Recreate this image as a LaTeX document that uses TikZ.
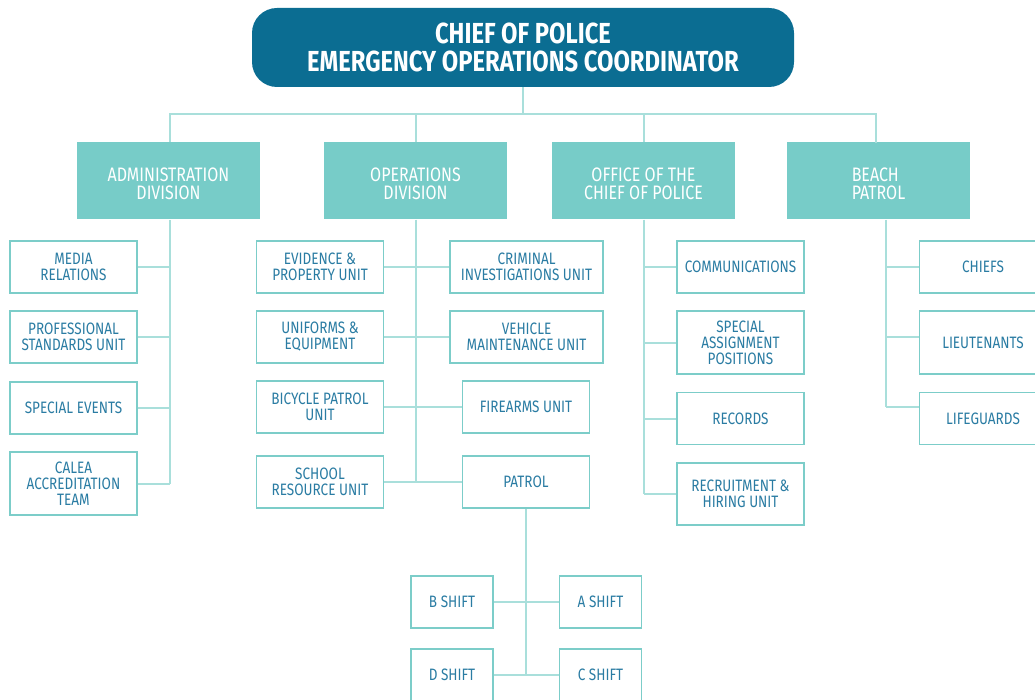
\documentclass[tikz,border=0pt]{standalone}
\usepackage{fontspec}
\setmainfont[FakeStretch=0.82]{Fira Sans}
\definecolor{navy}{HTML}{0B6D92}
\definecolor{divc}{HTML}{77CCC8}
\definecolor{edgec}{HTML}{A9DFDB}
\definecolor{bordc}{HTML}{7CCDC9}
\definecolor{txtc}{HTML}{2A7CA3}
\begin{document}
\begin{tikzpicture}[x=1pt,y=-1pt,
 unit/.style={draw=bordc, line width=1.4pt, fill=white, text=txtc, align=center,
   font=\fontsize{16.5}{16}\selectfont, inner sep=0pt, minimum width=127, minimum height=52},
 divfill/.style={fill=divc, minimum width=183, minimum height=77, inner sep=0pt},
 divbox/.style={divfill, label={[divtext]center:#1}},
 divtext/.style={text=white, align=center, font=\fontsize{19.5}{17.5}\selectfont, yshift=-3pt, inner sep=0pt},
 link/.style={draw=edgec, line width=2pt}]
\useasboundingbox (0,0) rectangle (1035,700);

% top
\node[fill=navy, rounded corners=25pt, minimum width=542, minimum height=79, inner sep=0pt,
  text=white, align=center, font=\bfseries\fontsize{29}{27.5}\selectfont] (chief) at (523,47.5)
  {CHIEF OF POLICE\\EMERGENCY OPERATIONS COORDINATOR};
\coordinate (bus) at (523,114);

% divisions
\node[divbox={ADMINISTRATION\\DIVISION}] (admin) at (168.5,181) {};
\node[divbox={OPERATIONS\\DIVISION}] (ops) at (415.5,181) {};
\node[divbox={OFFICE OF THE\\CHIEF OF POLICE}] (office) at (643.5,181) {};
\node[divfill, label={[divtext, align=left]center:BEACH\\PATROL}] (beach) at (878.5,181) {};
\coordinate (btop) at (876,143);
\coordinate (bbot) at (886,220);

% admin units
\node[unit] (media) at (73.5,267) {MEDIA\\RELATIONS};
\node[unit] (prof) at (73.5,337) {PROFESSIONAL\\STANDARDS UNIT};
\node[unit] (events) at (73.5,408) {SPECIAL EVENTS};
\node[unit, minimum height=63] (calea) at (73.5,483.5) {CALEA\\ACCREDITATION\\TEAM};

% operations units
\node[unit] (evid) at (320,267) {EVIDENCE \&\\PROPERTY UNIT};
\node[unit] (unif) at (320,337) {UNIFORMS \&\\EQUIPMENT};
\node[unit] (bike) at (320,407) {BICYCLE PATROL\\UNIT};
\node[unit] (school) at (320,482) {SCHOOL\\RESOURCE UNIT};
\node[unit, minimum width=153] (crim) at (526.5,267) {CRIMINAL\\INVESTIGATIONS UNIT};
\node[unit, minimum width=153] (veh) at (526.5,337) {VEHICLE\\MAINTENANCE UNIT};
\node[unit] (fire) at (526,407) {FIREARMS UNIT};
\node[unit] (patrol) at (526,482) {PATROL};

% shifts
\node[unit, minimum width=82] (bsh) at (452,602) {B SHIFT};
\node[unit, minimum width=82] (ash) at (600.5,602) {A SHIFT};
\node[unit, minimum width=82] (dsh) at (452,675) {D SHIFT};
\node[unit, minimum width=82] (csh) at (600.5,675) {C SHIFT};

% office units
\node[unit] (comm) at (740.5,267) {COMMUNICATIONS};
\node[unit, minimum height=63] (spec) at (740.5,342.5) {SPECIAL\\ASSIGNMENT\\POSITIONS};
\node[unit] (rec) at (740.5,418.5) {RECORDS};
\node[unit, minimum height=62] (recr) at (740.5,494) {RECRUITMENT \&\\HIRING UNIT};

% beach units
\node[unit] (chiefs) at (983,267) {CHIEFS};
\node[unit, minimum height=63] (lt) at (983,342.5) {LIEUTENANTS};
\node[unit] (lg) at (983,418.5) {LIFEGUARDS};

% connectors
\draw[link] (chief.south) -- (bus);
\draw[link] (admin.north -| 170,0) |- (bus) -| (btop);
\draw[link] (ops.north) -- (ops.north |- bus);
\draw[link] (office.north) -- (office.north |- bus);

\coordinate (av) at (170,220);
\draw[link] (av) -- (av |- calea.east);
\foreach \n in {media,prof,events,calea} \draw[link] (\n.east) -- (\n.east -| av);

\draw[link] (ops.south) -- (ops.south |- school.east);
\draw[link] (evid.east) -- (crim.west);
\draw[link] (unif.east) -- (veh.west);
\draw[link] (bike.east) -- (fire.west);
\draw[link] (school.east) -- (patrol.west);

\draw[link] (patrol.south) -- (patrol.south |- dsh.east);
\draw[link] (bsh.east) -- (ash.west);
\draw[link] (dsh.east) -- (csh.west);

\draw[link] (office.south) -- (office.south |- recr.west);
\foreach \n in {comm,spec,rec,recr} \draw[link] (\n.west) -- (\n.west -| office.south);

\coordinate (bj1) at (886,267);
\coordinate (bj2) at (886,337);
\coordinate (bj3) at (886,407);
\draw[link] (bbot) -- (bj3);
\draw[link] (bj1) -- (bj1 -| chiefs.west);
\draw[link] (bj2) -- (bj2 -| lt.west);
\draw[link] (bj3) -- (bj3 -| lg.west);
\end{tikzpicture}
\end{document}
